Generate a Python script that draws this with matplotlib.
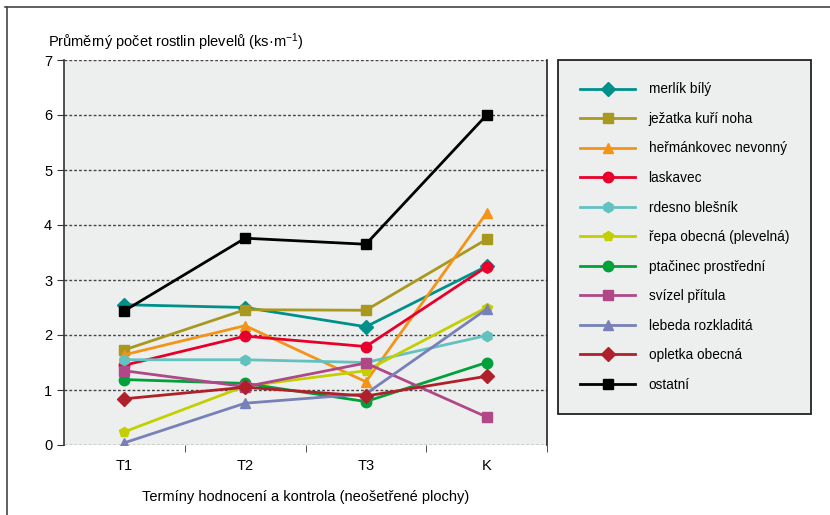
import matplotlib
matplotlib.use("Agg")
import matplotlib.pyplot as plt
from matplotlib.lines import Line2D

plt.rcParams['font.family'] = ['Liberation Sans', 'DejaVu Sans']
plt.rcParams['mathtext.default'] = 'regular'

terms = ["T1", "T2", "T3", "K"]

merlik = [2.55, 2.50, 2.15, 3.25]
jezatka = [1.73, 2.46, 2.45, 3.74]
hermankovec = [1.64, 2.17, 1.15, 4.22]
laskavec = [1.45, 1.98, 1.79, 3.24]
rdesno = [1.55, 1.55, 1.50, 1.99]
repa = [0.24, 1.07, 1.35, 2.50]
ptacinec = [1.19, 1.12, 0.79, 1.50]
svizel = [1.35, 1.06, 1.49, 0.51]
lebeda = [0.04, 0.76, 0.93, 2.47]
opletka = [0.84, 1.05, 0.89, 1.25]
ostatni = [2.44, 3.76, 3.65, 6.00]

series = [
    ("merlík bílý", merlik, "#00908a", "D"),
    ("ježatka kuří noha", jezatka, "#a8981e", "s"),
    ("heřmánkovec nevonný", hermankovec, "#f39419", "^"),
    ("laskavec", laskavec, "#e8002a", "o"),
    ("rdesno blešník", rdesno, "#63c1c0", "h"),
    ("řepa obecná (plevelná)", repa, "#c3cf00", "p"),
    ("ptačinec prostřední", ptacinec, "#00a03a", "o"),
    ("svízel přítula", svizel, "#b04888", "s"),
    ("lebeda rozkladitá", lebeda, "#7880b8", "^"),
    ("opletka obecná", opletka, "#b0202a", "D"),
    ("ostatní", ostatni, "black", "s"),
]

fig = plt.figure(figsize=(8.3, 5.15), dpi=100)
ax = fig.add_axes([64 / 830, 70 / 515, 483 / 830, 385 / 515])
ax.set_facecolor("#edefee")

x = list(range(len(terms)))
handles = []
for name, vals, color, marker in series:
    ms = 7 if marker == "D" else 7.5
    h, = ax.plot(x, vals, color=color, marker=marker, markersize=ms, linewidth=2,
                 label=name, zorder=3)
    handles.append(h)

ax.set_xlim(-0.5, 3.5)
ax.set_ylim(0, 7)
ax.set_yticks(range(0, 8))
for yv in range(0, 8):
    ax.axhline(yv, color="#444444", linestyle=(0, (2, 1.5)), linewidth=1, zorder=1)

ax.set_xticks(x)
ax.set_xticklabels(terms)
ax.set_xticks([0.5, 1.5, 2.5, 3.5], minor=True)
ax.tick_params(axis="x", which="major", length=0, pad=10, labelsize=10.5)
ax.tick_params(axis="x", which="minor", length=5, direction="out", color="#333333")
ax.tick_params(axis="y", length=5, direction="out", labelsize=10.5, color="#333333")

ax.spines["top"].set_visible(False)
ax.spines["bottom"].set_visible(False)
ax.spines["left"].set_color("#333333")
ax.spines["right"].set_color("#222222")
ax.spines["left"].set_linewidth(1.2)
ax.spines["right"].set_linewidth(1.2)

fig.text(48 / 830, 1 - 42 / 515, "Průměrný počet rostlin plevelů (ks·m$^{-1}$)",
         fontsize=10.5, va="center", ha="left")
ax.set_xlabel("Termíny hodnocení a kontrola (neošetřené plochy)", fontsize=10.5, labelpad=12)

leg = fig.legend(handles=handles, loc="upper left",
                 bbox_to_anchor=(558 / 830, 1 - 60 / 515),
                 fontsize=9.8, handlelength=4.0, handletextpad=1.0,
                 labelspacing=1.14, borderpad=1.65, borderaxespad=0,
                 fancybox=False, edgecolor="#222222", facecolor="#edefee",
                 framealpha=1)
leg.get_frame().set_linewidth(1.3)

# outer frame
fig.add_artist(Line2D([5 / 830, 1], [1 - 7 / 515, 1 - 7 / 515], color="#444444", linewidth=1.2))
fig.add_artist(Line2D([7 / 830, 7 / 830], [0, 1 - 7 / 515], color="#444444", linewidth=1.2))

fig.savefig("out.png", dpi=100)
